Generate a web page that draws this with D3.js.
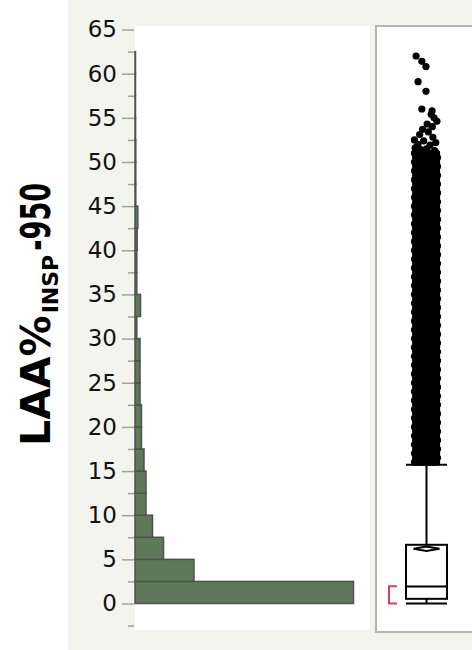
<!DOCTYPE html>
<html>
  <head>
    <title>LAA% INSP -950</title>
    <script src="https://d3js.org/d3.v7.min.js"></script>
    <style>
      body { margin: 0; background: #fff; }
      svg { display: block; }
      text { font-family: "DejaVu Sans", Verdana, sans-serif; }
    </style>
  </head>
  <body>
    <script>
      // histogram bins (lower edge, width 2.5) and counts
      const binLow = [0, 2.5, 5, 7.5, 10, 12.5, 15, 17.5, 20, 22.5, 25, 27.5, 30,
                      32.5, 35, 37.5, 40, 42.5, 45, 47.5, 50, 52.5, 55, 57.5, 60];
      const binCount = [2185, 590, 285, 175, 110, 110, 90, 65, 65, 50, 50, 50, 18,
                        55, 18, 18, 22, 28, 8, 8, 8, 6, 5, 5, 5];
      const majorTicks = [0, 5, 10, 15, 20, 25, 30, 35, 40, 45, 50, 55, 60, 65];
      const minorTicks = [-2.5, 2.5, 7.5, 12.5, 17.5, 22.5, 27.5, 32.5, 37.5, 42.5,
                          47.5, 52.5, 57.5, 62.5];

      // box plot summary
      const boxStats = { min: 0, q1: 0.53, median: 1.93, q3: 6.65, whiskerHi: 15.7 };
      const meanCI = [5.95, 6.2, 6.45];
      const shortestHalf = [0, 1.95];

      // outliers: the solid part of the column (drawn across the jitter lanes)
      const denseOutliers = [16, 16.5, 17, 17.5, 18, 18.5, 19, 19.5, 20, 20.5, 21, 21.5,
        22, 22.5, 23, 23.5, 24, 24.5, 25, 25.5, 26, 26.5, 27, 27.5, 28, 28.5, 29, 29.5,
        30, 30.5, 31, 31.5, 32, 32.5, 33, 33.5, 34, 34.5, 35, 35.5, 36, 36.5, 37, 37.5,
        38, 38.5, 39, 39.5, 40, 40.5, 41, 41.5, 42, 42.5, 43, 43.5, 44, 44.5, 45, 45.5,
        46, 46.5, 47, 47.5, 48, 48.5, 49, 49.5, 50, 50.5, 51];
      const lanesEven = [-1, -0.67, -0.33, 0, 0.33, 0.67, 0.92];
      const lanesOdd = [-0.9, -0.5, -0.17, 0.17, 0.5, 1];
      // sparse outliers at the top, with their jitter
      const sparseValues = [62.0, 61.4, 60.8, 59.1, 58.0, 56.0, 55.8, 55.4, 55.0, 54.6,
        54.3, 54.0, 53.7, 53.4, 53.1, 52.8, 52.5, 52.4, 52.2, 52.0, 51.9, 51.6, 51.5,
        51.4, 51.3];
      const sparseJitter = [-0.86, -0.36, 0.0, -0.69, 0.0, -0.36, 0.53, 0.45, 0.7, 0.95,
        0.1, 0.55, -0.3, 0.2, -0.55, 0.6, -1, -0.2, 0.85, -0.7, 0.35, -0.95, 0.05,
        -0.45, 0.75];

      const W = 472, H = 650;
      const svg = d3.select('body').append('svg')
        .attr('width', W)
        .attr('height', H);

      svg.append('rect')
        .attr('x', 68).attr('y', 0)
        .attr('width', W - 68).attr('height', H)
        .attr('fill', '#f4f4ef');

      const y = d3.scaleLinear().domain([-3, 65.4]).range([630, 26]);
      const x = d3.scaleLinear().domain([0, 2350]).range([135, 370]);

      // histogram frame
      svg.append('rect')
        .attr('x', 135).attr('y', 26)
        .attr('width', 235).attr('height', 604)
        .attr('fill', '#fff');

      svg.append('g')
        .selectAll('rect')
        .data(binLow)
        .join('rect')
        .attr('x', x(0))
        .attr('y', d => y(d + 2.5))
        .attr('width', (d, i) => x(binCount[i]) - x(0))
        .attr('height', d => y(d) - y(d + 2.5))
        .attr('fill', '#5d795a')
        .attr('stroke', '#4d524d')
        .attr('stroke-width', 1.5);

      // axis
      const yAxis = d3.axisLeft(y).tickValues(majorTicks).tickSize(12).tickPadding(5);
      const yMinor = d3.axisLeft(y).tickValues(minorTicks).tickSize(6).tickFormat('');

      const ag = svg.append('g').attr('transform', 'translate(134,0)').call(yAxis);
      const mg = svg.append('g').attr('transform', 'translate(134,0)').call(yMinor);
      [ag, mg].forEach(g => {
        g.select('.domain').remove();
        g.selectAll('.tick line').attr('stroke', '#a0a0a0').attr('stroke-width', 1.5);
      });
      ag.selectAll('.tick text')
        .attr('fill', '#111')
        .style('font-size', '23px')
        .style('font-family', '"DejaVu Sans", Verdana, sans-serif');

      // y label: LAA%_INSP-950
      const lab = svg.append('g').attr('transform', 'translate(50,446) rotate(-90)');
      const t1 = lab.append('text')
        .attr('x', 0).attr('y', 0)
        .style('font-size', '41px').style('font-weight', 'bold')
        .text('LAA%');
      const len1 = t1.node().getComputedTextLength();
      const t2 = lab.append('text')
        .attr('x', len1 + 2).attr('y', 8)
        .style('font-size', '22px').style('font-weight', 'bold')
        .text('INSP');
      const len2 = t2.node().getComputedTextLength();
      lab.append('text')
        .attr('x', len1 + len2 + 6).attr('y', 0)
        .attr('textLength', 68).attr('lengthAdjust', 'spacingAndGlyphs')
        .style('font-size', '41px').style('font-weight', 'bold')
        .text('-950');

      // box plot panel
      svg.append('rect')
        .attr('x', 376).attr('y', 26)
        .attr('width', 110).attr('height', 606)
        .attr('fill', '#fff')
        .attr('stroke', '#b4b4b4')
        .attr('stroke-width', 2);

      const cx = 426.5, half = 20.5;
      const jitter = d3.scaleLinear().domain([-1, 1]).range([414.5, 437.5]);
      const bp = svg.append('g');

      // whiskers
      bp.append('line')
        .attr('x1', cx).attr('x2', cx)
        .attr('y1', y(boxStats.q3)).attr('y2', y(boxStats.whiskerHi))
        .attr('stroke', '#000').attr('stroke-width', 2);
      bp.append('line')
        .attr('x1', cx).attr('x2', cx)
        .attr('y1', y(boxStats.q1)).attr('y2', y(boxStats.min))
        .attr('stroke', '#000').attr('stroke-width', 2);

      // outlier dots
      const dots = [];
      denseOutliers.forEach((v, i) =>
        (i % 2 ? lanesOdd : lanesEven).forEach(j => dots.push([v, j])));
      sparseValues.forEach((v, i) => dots.push([v, sparseJitter[i]]));
      bp.append('g')
        .selectAll('circle')
        .data(dots)
        .join('circle')
        .attr('cx', d => jitter(d[1]))
        .attr('cy', d => y(d[0]))
        .attr('r', 3.6)
        .attr('fill', '#000');

      // caps
      [boxStats.whiskerHi, boxStats.min].forEach(v => {
        bp.append('line')
          .attr('x1', cx - half).attr('x2', cx + half)
          .attr('y1', y(v)).attr('y2', y(v))
          .attr('stroke', '#000').attr('stroke-width', 2);
      });

      // box
      bp.append('rect')
        .attr('x', cx - half).attr('y', y(boxStats.q3))
        .attr('width', half * 2).attr('height', y(boxStats.q1) - y(boxStats.q3))
        .attr('fill', '#fff')
        .attr('stroke', '#000').attr('stroke-width', 2);
      bp.append('line')
        .attr('x1', cx - half).attr('x2', cx + half)
        .attr('y1', y(boxStats.median)).attr('y2', y(boxStats.median))
        .attr('stroke', '#000').attr('stroke-width', 2);

      // mean diamond
      bp.append('path')
        .attr('d', `M${cx - 13},${y(meanCI[1])} L${cx},${y(meanCI[2])} L${cx + 13},${y(meanCI[1])} L${cx},${y(meanCI[0])} Z`)
        .attr('fill', '#fff')
        .attr('stroke', '#000').attr('stroke-width', 2);

      // shortest half bracket
      bp.append('path')
        .attr('d', `M397,${y(shortestHalf[1])} H389 V${y(shortestHalf[0])} H397`)
        .attr('fill', 'none')
        .attr('stroke', '#e8375c').attr('stroke-width', 2);
    </script>
  </body>
</html>
